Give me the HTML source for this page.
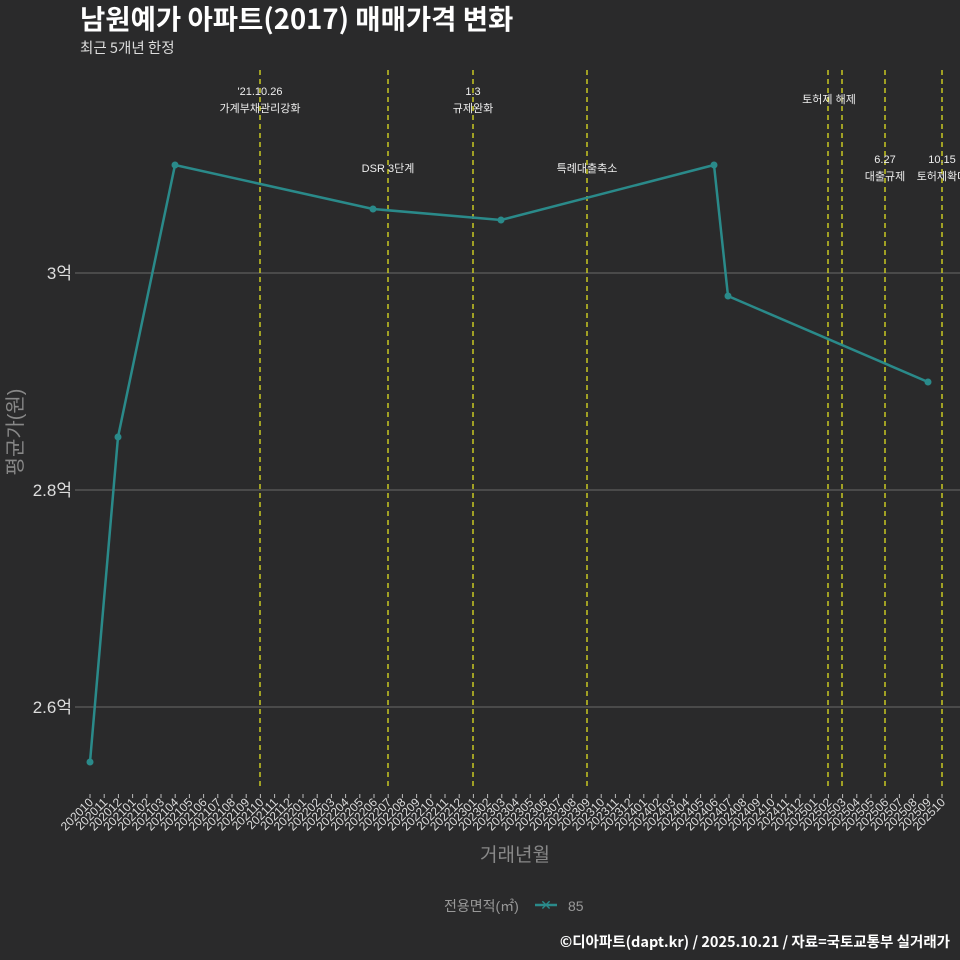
<!DOCTYPE html>
<html><head><meta charset="utf-8"><style>
body{margin:0;background:#2a2a2b;}
svg{display:block;font-family:"Liberation Sans","Noto Sans CJK KR",sans-serif;}
</style></head><body>
<svg width="960" height="960" xmlns="http://www.w3.org/2000/svg">
<rect width="960" height="960" fill="#2a2a2b"/>
<text x="80" y="29" font-size="27.5" font-weight="bold" fill="#fff" font-family="Noto Sans CJK KR, sans-serif">남원예가 아파트(2017) 매매가격 변화</text>
<text x="80" y="53" font-size="14.5" fill="#ddd" font-family="Noto Sans CJK KR, sans-serif">최근 5개년 한정</text>
<g stroke="#6a6a6a" stroke-width="1">
<line x1="75" x2="960" y1="273" y2="273"/>
<line x1="75" x2="960" y1="490" y2="490"/>
<line x1="75" x2="960" y1="707" y2="707"/>
</g>
<g font-size="17" fill="#ddd" text-anchor="end">
<text x="72" y="279">3억</text>
<text x="72" y="496">2.8억</text>
<text x="72" y="713">2.6억</text>
</g>
<text transform="translate(22,432) rotate(-90)" font-size="20" fill="#888" text-anchor="middle">평균가(원)</text>
<g stroke="#e0e020" stroke-width="1.3" stroke-dasharray="5,4">
<line x1="260" x2="260" y1="70" y2="790"/>
<line x1="388" x2="388" y1="70" y2="790"/>
<line x1="473" x2="473" y1="70" y2="790"/>
<line x1="587" x2="587" y1="70" y2="790"/>
<line x1="828" x2="828" y1="70" y2="790"/>
<line x1="842" x2="842" y1="70" y2="790"/>
<line x1="885" x2="885" y1="70" y2="790"/>
<line x1="942" x2="942" y1="70" y2="790"/>
</g>
<g font-size="11" fill="#eee" text-anchor="middle">
<text x="260" y="95">'21.10.26</text><text x="260" y="112">가계부채관리강화</text>
<text x="388" y="172">DSR 3단계</text>
<text x="473" y="95">1.3</text><text x="473" y="112">규제완화</text>
<text x="587" y="172">특례대출축소</text>
<text x="829" y="103">토허제 해제</text>
<text x="885" y="163">6.27</text><text x="885" y="180">대출규제</text>
<text x="942" y="163">10.15</text><text x="942" y="180">토허제확대</text>
</g>
<polyline fill="none" stroke="#2a8a8a" stroke-width="2.5" points="90,762 118,437 175,165 373,209 501,220 714,165 728,296 928,382"/>
<g fill="#2a8a8a">
<circle cx="90" cy="762" r="3.5"/><circle cx="118" cy="437" r="3.5"/><circle cx="175" cy="165" r="3.5"/><circle cx="373" cy="209" r="3.5"/><circle cx="501" cy="220" r="3.5"/><circle cx="714" cy="165" r="3.5"/><circle cx="728" cy="296" r="3.5"/><circle cx="928" cy="382" r="3.5"/>
</g>
<g id="ticks" stroke="#bbb" stroke-width="1"></g>
<g id="tl" font-size="12" fill="#ddd" text-anchor="end"></g>
<text x="515" y="861" font-size="19" fill="#888" text-anchor="middle">거래년월</text>
<text x="444" y="911" font-size="14" fill="#999">전용면적(㎡)</text>
<line x1="535" x2="557" y1="905" y2="905" stroke="#2a8a8a" stroke-width="2.5"/>
<text x="546" y="910" font-size="14" fill="#2a8a8a" text-anchor="middle">✕</text>
<text x="568" y="911" font-size="14" fill="#999">85</text>
<text x="950" y="947" font-size="14.5" font-weight="bold" fill="#fff" text-anchor="end" font-family="Noto Sans CJK KR, sans-serif">©디아파트(dapt.kr) / 2025.10.21 / 자료=국토교통부 실거래가</text>
<script>
var t=document.getElementById('ticks'),l=document.getElementById('tl'),ns='http://www.w3.org/2000/svg';
for(var i=0;i<61;i++){var x=90+i*14.2;var y=2020+Math.floor((i+9)/12),m=(i+9)%12+1;
var ln=document.createElementNS(ns,'line');ln.setAttribute('x1',x);ln.setAttribute('x2',x);ln.setAttribute('y1',794);ln.setAttribute('y2',798);t.appendChild(ln);
var tx=document.createElementNS(ns,'text');tx.setAttribute('transform','translate('+(x+4)+',803) rotate(-45)');tx.textContent=y+(m<10?'0':'')+m;l.appendChild(tx);}
</script>
</svg>
</body></html>
